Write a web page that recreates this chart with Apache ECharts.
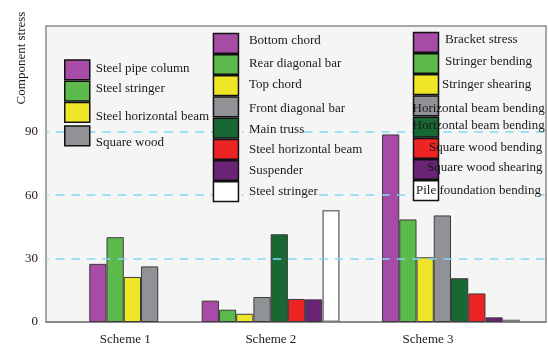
<!DOCTYPE html>
<html>
<head>
<meta charset="utf-8">
<script src="https://cdn.jsdelivr.net/npm/echarts@6/dist/echarts.min.js"></script>
<style>html,body{margin:0;padding:0;background:#fff}#c{width:548px;height:344px}</style>
</head>
<body>
<div id="c"></div>
<script>
// ---- data ----
const schemes = ['Scheme 1', 'Scheme 2', 'Scheme 3'];
const scheme1Parts = ['Steel pipe column', 'Steel stringer', 'Steel horizontal beam', 'Square wood'];
const scheme1Values = [27.5, 40.1, 21.3, 26.3];
const scheme2Parts = ['Bottom chord', 'Rear diagonal bar', 'Top chord', 'Front diagonal bar', 'Main truss', 'Steel horizontal beam', 'Suspender', 'Steel stringer'];
const scheme2Values = [10.1, 5.8, 3.9, 11.8, 41.5, 10.9, 10.7, 53.0];
const scheme3Parts = ['Bracket stress', 'Stringer bending', 'Stringer shearing', 'Horizontal beam bending', 'Horizontal beam bending', 'Square wood bending', 'Square wood shearing', 'Pile foundation bending'];
const scheme3Values = [88.7, 48.5, 30.6, 50.4, 20.7, 13.5, 2.2, 1.1];
const yTickLabels = [0, 30, 60, 90];
const gridLineValues = [30, 60, 90];
const yAxisTitle = 'Component stress';

// ---- layout / style ----
const palette = ['#a64ca6', '#5cba4c', '#f0e628', '#919296', '#186834', '#ec2424', '#6a2476', '#ffffff'];
const groupStart = [2.51, 9.03, 19.49];   // x-axis units (one unit = one bar slot)
const labelPos = [4.6, 13.04, 22.16];
const FONT = '"Liberation Serif", "Times New Roman", serif';
const TEXT_COLOR = '#1a1a1a';
const PLOT_BG = '#f5f5f5';

const groups = [
  { parts: scheme1Parts, values: scheme1Values },
  { parts: scheme2Parts, values: scheme2Values },
  { parts: scheme3Parts, values: scheme3Values }
];

// unique series names inside each legend (duplicate gets a trailing space)
const seriesNames = groups.map(g => {
  const used = {};
  return g.parts.map(p => { let n = p; while (used[n]) n += ' '; used[n] = true; return n; });
});

const series = [];
groups.forEach((g, s) => {
  g.parts.forEach((p, i) => {
    series.push({
      type: 'bar',
      name: seriesNames[s][i],
      barWidth: '100%',
      barGap: '-100%',
      data: [[groupStart[s] + i + 0.5, g.values[i]]],
      itemStyle: {
        color: palette[i],
        borderColor: i === 7 ? '#7a7a7a' : '#3c3c3c',
        borderWidth: i === 7 ? 1.5 : 1
      },
      emphasis: { disabled: true }
    });
  });
});
series[0].markLine = {
  silent: true,
  symbol: ['none', 'none'],
  label: { show: false },
  lineStyle: { type: [8.5, 7], dashOffset: 5.7, color: '#84d8f5', width: 1.6 },
  data: gridLineValues.map(v => ({ yAxis: v }))
};

// per-item legend text nudges (layout only): padding [top, right, bottom, left], optional bg
const legendTextTweaks = [
  [{ p: [0, 0, 3, 1] }, { p: [0, 0, 6, 1] }, { p: [8, 0, 0, 1] }, { p: [13, 0, 0, 1] }],
  [{ p: [0, 0, 5, 5.5] }, { p: [0, 0, 1, 5.5] }, { p: [0, 0, 2, 5.5] }, { p: [4, 0, 0, 5.5] },
   { p: [2, 0, 0, 5.5], bg: true }, { p: [0, 0, 0, 5.5] }, { p: [1, 0, 0, 5.5] },
   { p: [0, 0, 0, 5.5], bg: true }],
  [{ p: [0, 0, 4.6, 1.5] }, { p: [0, 0, 3, 1.5] }, { p: [0, 0, 1, -1.5] }, { p: [6, 0, 0, -31] },
   { p: [0, 0, 2.6, -31] }, { p: [0, 0, 2, -14.5] }, { p: [0, 0, 3, -16.5] },
   { p: [0, 0, 0, -27.5], bg: true }]
];
const legendPos = [{ left: 64, top: 59.3 }, { left: 212.7, top: 32.7 }, { left: 412.5, top: 31.7 }];

const legends = groups.map((g, s) => {
  const rich = {};
  legendTextTweaks[s].forEach((t, i) => {
    const st = { fontFamily: FONT, fontSize: 13, color: TEXT_COLOR, lineHeight: 13, padding: t.p };
    if (t.bg) st.backgroundColor = PLOT_BG;
    rich['r' + i] = st;
  });
  return {
    orient: 'vertical',
    left: legendPos[s].left,
    top: legendPos[s].top,
    padding: 0,
    itemGap: 0,
    itemWidth: 25,
    itemHeight: 19.7,
    icon: 'rect',
    z: 10,
    selectedMode: false,
    itemStyle: { borderColor: '#111', borderWidth: 1.5 },
    textStyle: { fontFamily: FONT, fontSize: 13, color: TEXT_COLOR, lineHeight: 13, rich: rich },
    formatter: name => '{r' + seriesNames[s].indexOf(name) + '|' + name + '}',
    data: seriesNames[s].map((n, i) => ({ name: n, itemStyle: { color: palette[i] } }))
  };
});

const chart = echarts.init(document.getElementById('c'), null, { renderer: 'canvas' });
chart.setOption({
  animation: false,
  backgroundColor: '#ffffff',
  textStyle: { fontFamily: FONT },
  grid: {
    left: 46, right: 2, top: 26, bottom: 22,
    outerBoundsMode: 'none',
    containLabel: false,
    show: true, backgroundColor: PLOT_BG, borderColor: '#8a8a8a', borderWidth: 1.5
  },
  xAxis: {
    type: 'value', min: 0, max: 29,
    axisLine: { show: true, lineStyle: { color: '#808080', width: 1.5 } },
    axisTick: { show: false },
    splitLine: { show: false },
    axisLabel: {
      customValues: labelPos,
      margin: 11,
      fontFamily: FONT, fontSize: 13, color: TEXT_COLOR,
      formatter: v => { const k = labelPos.findIndex(p => Math.abs(p - v) < 1e-6); return k >= 0 ? schemes[k] : ''; }
    }
  },
  yAxis: {
    type: 'value', min: 0, max: 140, interval: 30,
    axisLine: { show: false },
    axisTick: { show: false },
    splitLine: { show: false },
    axisLabel: { customValues: yTickLabels, margin: 8, fontFamily: FONT, fontSize: 13, color: TEXT_COLOR }
  },
  legend: legends,
  graphic: [{
    type: 'text', x: 22, y: 58, rotation: Math.PI / 2, silent: true,
    style: { text: yAxisTitle, font: '13px ' + FONT, fill: TEXT_COLOR, align: 'center', verticalAlign: 'middle' }
  }],
  series: series
});
</script>
</body>
</html>
